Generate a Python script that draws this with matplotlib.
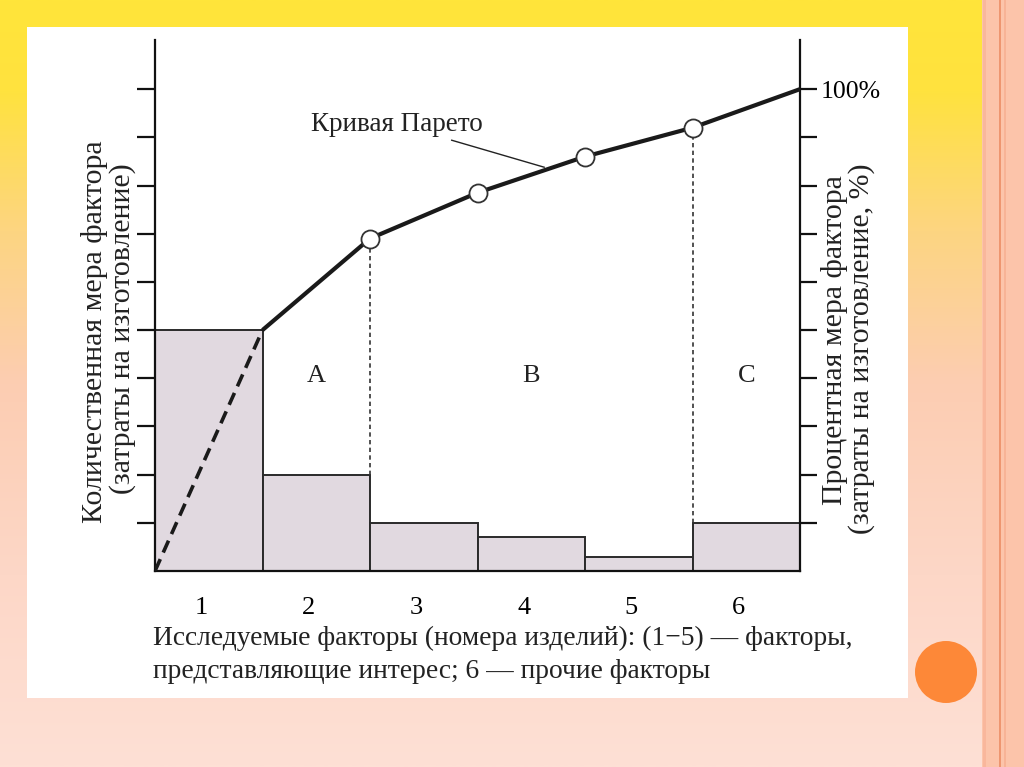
import numpy as np
import matplotlib
matplotlib.use("Agg")
import matplotlib.pyplot as plt
from matplotlib.patches import Rectangle, Circle
from matplotlib.colors import LinearSegmentedColormap

# ---- data ----
factors = ["1", "2", "3", "4", "5", "6"]
values = [5.0, 2.0, 1.0, 0.7, 0.3, 1.0]          # quantitative measure (units)
cum_x = [1, 2, 3, 4, 5, 6]                        # right edges of bars
cum_pct = [50, 69, 78.5, 86, 92, 100]             # Pareto curve, %
marker_idx = [1, 2, 3, 4]                         # points drawn with circles
left_ticks = list(range(1, 11))
right_ticks = list(range(10, 101, 10))
right_labels = [""] * 9 + ["100%"]
zones = ["A", "B", "C"]
zone_x = [1.5, 3.5, 5.5]

FONT = ["Liberation Serif", "DejaVu Serif"]
plt.rcParams["font.family"] = FONT

W, H = 1024, 767
fig = plt.figure(figsize=(W / 100, H / 100), dpi=100)

# ---- slide background ----
bg = fig.add_axes([0, 0, 1, 1], zorder=0)
bg.set_xlim(0, W)
bg.set_ylim(H, 0)
bg.axis("off")
cmap = LinearSegmentedColormap.from_list(
    "slide",
    [(0.0, "#FFE53A"), (0.12, "#FFE23F"), (0.30, "#FDD581"),
     (0.50, "#FCCDB2"), (0.75, "#FDD7C7"), (1.0, "#FEE0D5")])
grad = np.linspace(0, 1, 256).reshape(-1, 1)
bg.imshow(grad, cmap=cmap, extent=[0, W, H, 0], aspect="auto")
bg.add_patch(Rectangle((982, 0), 42, H, color="#FCC4AA", lw=0))
bg.add_patch(Rectangle((983, 0), 3, H, color="#F9B79C", lw=0))
bg.add_patch(Rectangle((999, 0), 2, H, color="#EE9670", lw=0))
bg.add_patch(Rectangle((1004, 0), 2, H, color="#F7B396", lw=0))
bg.add_patch(Rectangle((27, 27), 881, 671, color="white", lw=0))
bg.add_patch(Circle((946, 672), 31, color="#FD8838", lw=0))

# ---- chart ----
ax = fig.add_axes([155 / W, 1 - 571 / H, 645 / W, 531 / H], zorder=2)
ax.set_facecolor("none")
centers = np.arange(len(values)) + 0.5
ax.bar(centers, values, width=1.0, color="#E1D9E0", edgecolor="#2a2a2a",
       linewidth=1.4, zorder=2)
ax.set_xlim(0, 6)
ax.set_ylim(0, 11.02)
ax.set_yticks(left_ticks)
ax.set_yticklabels([])
ax.tick_params(axis="y", direction="out", length=13, width=1.6, color="#111")
ax.set_xticks(centers - 0.07)
ax.set_xticklabels(factors, fontsize=19)
ax.tick_params(axis="x", length=0, pad=19)
for s in ["left", "right", "bottom"]:
    ax.spines[s].set_linewidth(1.6)
    ax.spines[s].set_color("#111")
ax.spines["top"].set_visible(False)

for z, zx in zip(zones, zone_x):
    ax.text(zx, 4.05, z, ha="center", va="center", fontsize=19, color="#222")

ax2 = ax.twinx()
ax2.set_ylim(0, 110.2)
ax2.set_yticks(right_ticks)
ax2.set_yticklabels(right_labels, fontsize=18.5)
ax2.tick_params(axis="y", direction="out", length=12, width=1.6, color="#111", pad=3)
for s in ["left", "right", "bottom", "top"]:
    ax2.spines[s].set_visible(False)

# dashed start line
ax2.plot([0, cum_x[0]], [0, cum_pct[0]], ls=(0, (3.6, 2.0)), lw=2.6, color="#1a1a1a", zorder=3)
# dotted verticals
ax2.plot([cum_x[1], cum_x[1]], [values[1] * 10, cum_pct[1]], ls=(0, (2.6, 2.0)),
         lw=1.2, color="#333", zorder=3)
ax2.plot([cum_x[4], cum_x[4]], [values[5] * 10, cum_pct[4]], ls=(0, (2.6, 2.0)),
         lw=1.2, color="#333", zorder=3)
# Pareto curve
ax2.plot(cum_x, cum_pct, lw=3.0, color="#1a1a1a", zorder=4, solid_capstyle="butt")
ax2.plot([cum_x[i] for i in marker_idx], [cum_pct[i] for i in marker_idx], ls="none",
         marker="o", ms=13, mfc="white", mec="#333", mew=1.3, zorder=5)

# label with leader line
ax2.text(2.25, 92.6, "Кривая Парето", fontsize=19.5, ha="center", va="center", color="#222")
ax2.plot([2.76, 3.62], [89.4, 83.8], lw=1.0, color="#222", zorder=3)

# axis titles
fig.text(95 / W, 1 - 332 / H, "Количественная мера фактора", rotation=90,
         ha="center", va="center", fontsize=21.5, color="#222")
fig.text(123 / W, 1 - 329 / H, "(затраты на изготовление)", rotation=90,
         ha="center", va="center", fontsize=21.5, color="#222")
fig.text(835 / W, 1 - 340 / H, "Процентная мера фактора", rotation=90,
         ha="center", va="center", fontsize=21.5, color="#222")
fig.text(862 / W, 1 - 349 / H, "(затраты на изготовление, %)", rotation=90,
         ha="center", va="center", fontsize=21.5, color="#222")

fig.text(153 / W, 1 - 638 / H, "Исследуемые факторы (номера изделий): (1\u22125) \u2014 факторы,",
         ha="left", va="center", fontsize=19.8, color="#222")
fig.text(153 / W, 1 - 672 / H, "представляющие интерес; 6 \u2014 прочие факторы",
         ha="left", va="center", fontsize=19.8, color="#222")

fig.savefig("out.png", dpi=100)
